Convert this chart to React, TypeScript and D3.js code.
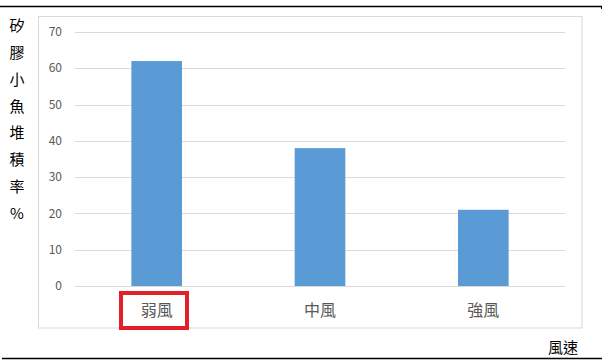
import React from "react";
import * as d3 from "d3";

const categories = ["弱風", "中風", "強風"];
const values = [62, 38, 21];
const yTicks = [0, 10, 20, 30, 40, 50, 60, 70];
const yTitleChars = ["矽", "膠", "小", "魚", "堆", "積", "率", "%"];
const xTitle = "風速";

export default function App() {
  const W = 604, H = 361;
  const x = d3.scaleBand<string>().domain(categories).range([75, 565]).paddingInner(0.69).paddingOuter(0.345);
  const y = d3.scaleLinear().domain([0, 70]).range([286, 32]);
  const font = "'Noto Sans CJK TC', 'Noto Sans', sans-serif";
  return (
    <svg width={W} height={H} style={{ position: "absolute", left: 0, top: 0, background: "#fff" }}>
      <line x1={0} x2={602} y1={6.5} y2={6.5} stroke="#000" strokeWidth={1.5} />
      <line x1={601.5} x2={601.5} y1={6} y2={9} stroke="#000" strokeWidth={1} />
      <line x1={2} x2={602} y1={358.5} y2={358.5} stroke="#000" strokeWidth={1.5} />
      <rect x={38.5} y={16.5} width={543.5} height={311.5} fill="#fff" stroke="#d9d9d9" strokeWidth={1} />
      {yTicks.map((t) => (
        <g key={t}>
          <line x1={75} x2={565} y1={Math.round(y(t)) + 0.5} y2={Math.round(y(t)) + 0.5} stroke="#d9d9d9" strokeWidth={1} />
          <text x={62} y={y(t)} dy="0.35em" textAnchor="end" fontSize={12} fill="#595959" fontFamily={font}>{t}</text>
        </g>
      ))}
      {categories.map((c, i) => (
        <rect key={c} x={x(c)} y={y(values[i])} width={x.bandwidth()} height={y(0) - y(values[i])} fill="#5b9bd5" />
      ))}
      {categories.map((c) => (
        <text key={c} x={(x(c) as number) + x.bandwidth() / 2} y={310} dy="0.35em" textAnchor="middle" fontSize={16} fill="#595959" fontFamily={font}>{c}</text>
      ))}
      <rect x={121} y={293} width={66} height={35} fill="none" stroke="#e3202a" strokeWidth={4} />
      {yTitleChars.map((ch, i) => (
        <text key={i} x={17} y={26 + i * 26.8} dy="0.35em" textAnchor="middle" fontSize={15} fill="#000" fontFamily={font}>{ch}</text>
      ))}
      <text x={563} y={348} dy="0.35em" textAnchor="middle" fontSize={15} fill="#000" fontFamily={font}>{xTitle}</text>
    </svg>
  );
}
